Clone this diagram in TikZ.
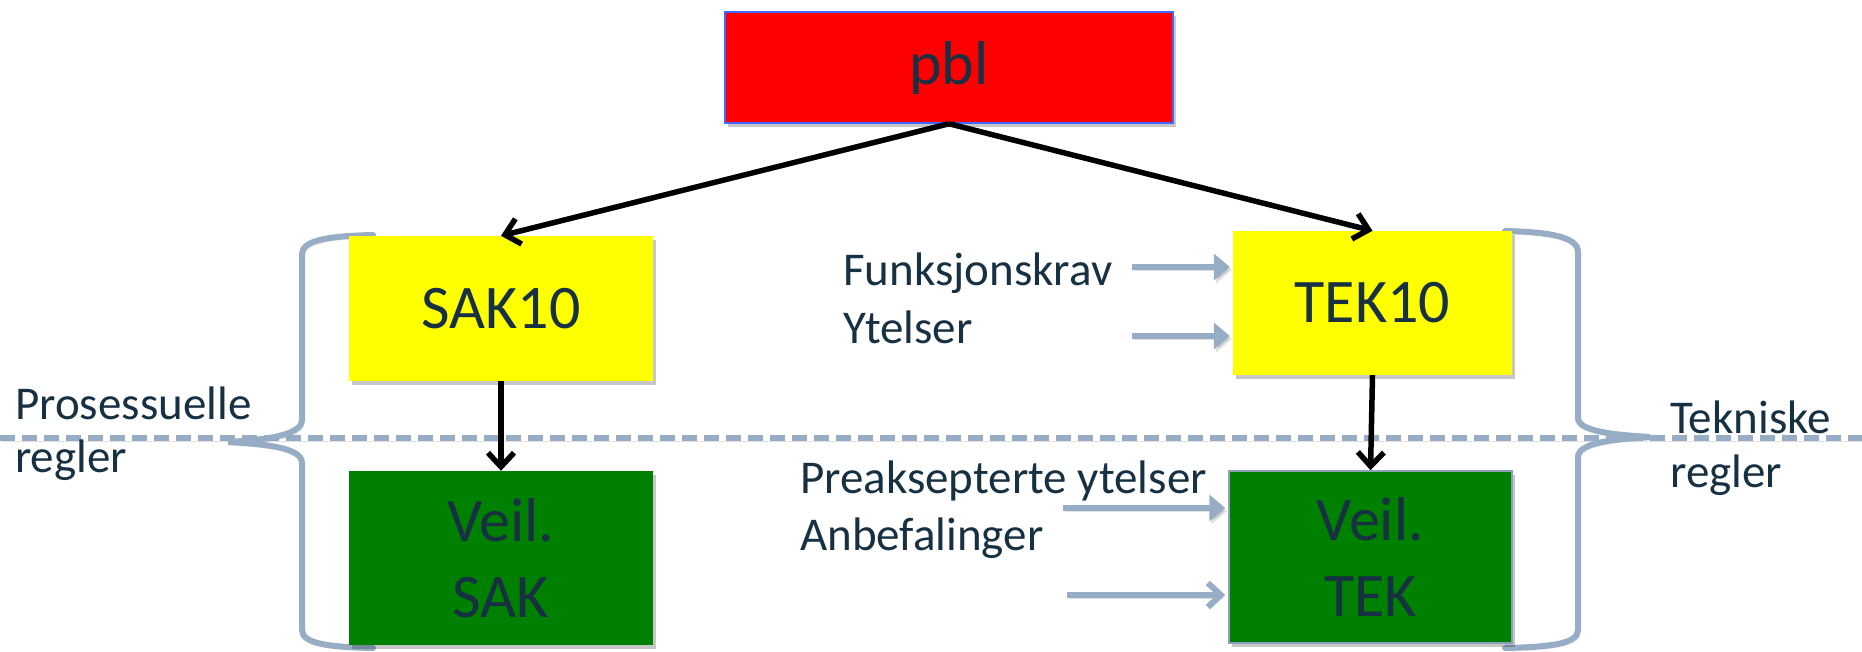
\documentclass[tikz,border=0pt]{standalone}
\usepackage{fontspec}
\setmainfont{Carlito}
\usetikzlibrary{arrows.meta,shadows}
\definecolor{txt}{RGB}{23,48,66}
\definecolor{rule}{RGB}{150,173,197}
\definecolor{actred}{RGB}{255,0,0}
\definecolor{actedge}{RGB}{64,104,255}
\definecolor{lawyellow}{RGB}{255,255,0}
\definecolor{guidegreen}{RGB}{0,128,0}
\definecolor{guideedge}{RGB}{140,160,185}
\begin{document}
\begin{tikzpicture}[x=1pt,y=-1pt,
  box/.style={rectangle, inner sep=0pt, text=txt, align=center,
    font=\fontsize{62}{76}\selectfont,
    drop shadow={shadow xshift=3pt, shadow yshift=-4pt, fill=black, opacity=0.22}},
  lbl/.style={anchor=base west, inner sep=0pt, text=txt,
    font=\fontsize{47}{56}\selectfont},
  flow/.style={draw=black, line width=5.5pt,
    -{Straight Barb[length=14pt,width=26pt]}},
  softshadow/.style={preaction={draw=black, opacity=0.12,
    transform canvas={shift={(2pt,-3pt)}}}},
  feed/.style={draw=rule, line width=6pt, softshadow,
    -{Triangle[length=16pt,width=26pt]}, shorten >=3pt},
  feedbarb/.style={draw=rule, line width=6pt, softshadow,
    -{Straight Barb[length=13pt,width=24pt]}, shorten >=3pt},
  brace/.style={draw=rule, line width=6pt, line cap=round, softshadow},
  divider/.style={draw=rule, line width=5.5pt, dash pattern=on 15pt off 7pt,
    softshadow}
]
\useasboundingbox (0,0) rectangle (1862,651);

% dashed boundary between regulations and guidance
\coordinate (dl) at (0,438);
\coordinate (dr) at (1862,438);
\draw[divider] (dl) -- (dr);

% left curly brace
\draw[brace] (373,235) .. controls (330,236) and (302,240) .. (302,254)
  -- (302,420) .. controls (302,436) and (262,440) .. (228,442)
  .. controls (262,444) and (302,447) .. (302,463)
  -- (302,630) .. controls (302,644) and (330,647) .. (373,648);

% right curly brace
\draw[brace] (1505,231) .. controls (1550,232) and (1578,237) .. (1578,252)
  -- (1578,418) .. controls (1578,432) and (1618,435) .. (1650,437)
  .. controls (1618,439) and (1578,442) .. (1578,457)
  -- (1578,630) .. controls (1578,644) and (1550,647) .. (1505,648);

% boxes
\node[box, fill=actred, draw=actedge, line width=1.5pt,
  minimum width=448pt, minimum height=111pt] (pbl) at (949,67.5) {pbl};
\node[box, fill=lawyellow, minimum width=304pt, minimum height=145pt]
  (sak) at (501,308.5) {SAK10};
\node[box, fill=lawyellow, minimum width=279pt, minimum height=144pt]
  (tek) at (1372.5,303) {TEK10};
\node[box, fill=guidegreen, minimum width=304pt, minimum height=174pt]
  (vsak) at (501,558) {Veil.\\SAK};
\node[box, fill=guidegreen, draw=guideedge, line width=1.5pt,
  minimum width=283pt, minimum height=172pt]
  (vtek) at (1370.5,557) {Veil.\\TEK};

% hierarchy arrows
\draw[flow] (pbl.south) -- (sak.north);
\draw[flow] (pbl.south) -- (tek.north);
\draw[flow] (sak.south) -- (vsak.north);
\draw[flow] (tek.south) -- (vtek.north);

% side labels
\node[lbl] (pros) at (15,419) {Prosessuelle};
\node[lbl] (prosr) at (15,472) {regler};
\node[lbl] (tekn) at (1670,433) {Tekniske};
\node[lbl] (teknr) at (1670,487) {regler};

% inputs to TEK10
\node[lbl] (funk) at (843,285) {Funksjonskrav};
\node[lbl] (ytel) at (843,343) {Ytelser};
\coordinate (f1) at (1132,267);
\coordinate (f2) at (1132,336);
\draw[feed] (f1) -- (f1 -| tek.west);
\draw[feed] (f2) -- (f2 -| tek.west);

% inputs to the guidance
\node[lbl] (prea) at (800,493) {Preaksepterte ytelser};
\node[lbl] (anbe) at (800,550) {Anbefalinger};
\coordinate (g1) at (1063,508);
\coordinate (g2) at (1067,595);
\draw[feed] (g1) -- (g1 -| vtek.west);
\draw[feedbarb] (g2) -- (g2 -| vtek.west);
\end{tikzpicture}
\end{document}
